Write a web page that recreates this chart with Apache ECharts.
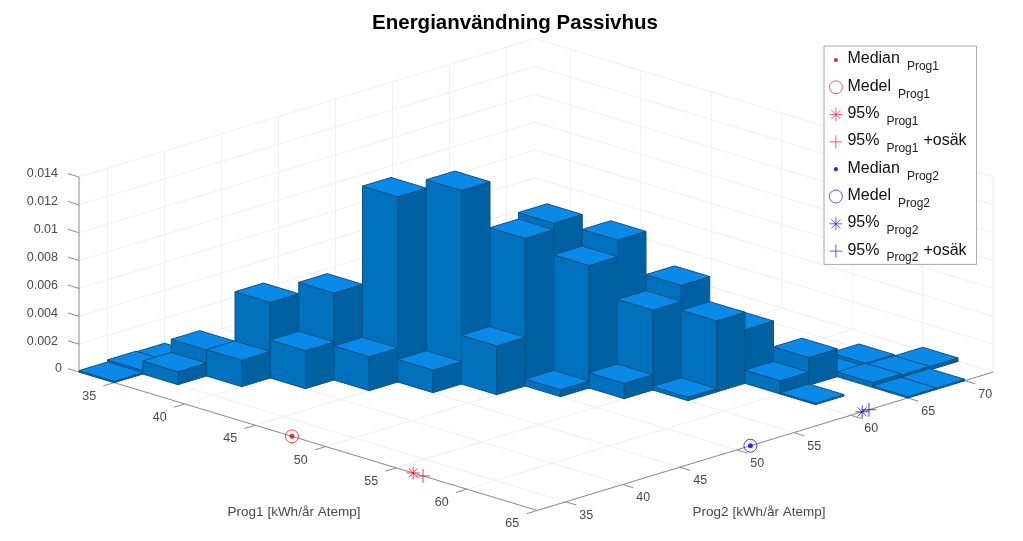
<!DOCTYPE html>
<html><head><meta charset="utf-8">
<style>html,body{margin:0;padding:0;background:#fff}#c{width:1023px;height:541px}</style>
<script src="https://cdn.jsdelivr.net/npm/echarts@6/dist/echarts.min.js"></script>
</head><body><div id="c"></div>
<script>
// ---- data ----
const prog1Ticks = [35,40,45,50,55,60,65];
const prog2Ticks = [35,40,45,50,55,60,65,70];
const densityTicks = [0,0.002,0.004,0.006,0.008,0.01,0.012,0.014];
const densityLabels = ['0','0.002','0.004','0.006','0.008','0.01','0.012','0.014'];
const binWidth = 2.5;
const barProg1 = [32.5,35,37.5,40,42.5,45,47.5,50,52.5,55,60,
                  32.5,35,37.5,40,42.5,45,47.5,50,52.5,55,57.5,
                  32.5,47.5,50,52.5,55,57.5,60,62.5,62.5,60,57.5,60,57.5];
const barProg2 = [32.5,35,37.5,40,42.5,45,47.5,50,52.5,55,60,
                  35,37.5,40,42.5,45,47.5,50,52.5,55,57.5,60,
                  37.5,52.5,55,57.5,60,62.5,65,67.5,65,67.5,67.5,70,65];
const barHeight = [0.0001,0.00093,0.0019,0.00273,0.00244,0.00162,0.0035,0.0005,0.0011,0.00025,0.0001,
                   0.00025,0.00187,0.00543,0.00625,0.0133,0.0139,0.0106,0.0088,0.00574,0.0051,0.00095,
                   0.0002,0.01107,0.01,0.0069,0.00385,0.002,0.00035,0.0001,0.0001,0.00027,0.00034,0.00025,0.00012];
const prog1Median = 47.6, prog1Mean = 47.6, prog1P95 = 56.2, prog1P95U = 56.9;
const prog2Median = 51.2, prog2Mean = 51.2, prog2P95 = 61.0, prog2P95U = 61.6;

// ---- orthographic view of the 3-D box ----
const box = {p1:[32.5,65], p2:[32.5,72.5], z:[0,0.014]};
function project(p1,p2,z){
  return [79 + (p1-32.5)*14.1 + (p2-32.5)*11.4,
          372 + (p1-32.5)*4.26 - (p2-32.5)*3.46 - z*13929];
}
const TOP='#0a8ae8', LEFT='#0071bc', RIGHT='#0061a2', EDGE='#0d5286';

const bars = barProg1.map((p,k)=>[p,barProg2[k],barHeight[k]])
  .sort((a,b)=>(a[0]-a[1])-(b[0]-b[1]));

const GRID='#f0f0f0', AXIS='#8a8a8a';
const lines=[];
function L(a,b,c){lines.push([...a,...b,c]);}
prog1Ticks.forEach(t=>{
  L([t,box.p2[0],0],[t,box.p2[1],0],GRID);
  L([t,box.p2[1],0],[t,box.p2[1],box.z[1]],GRID);
});
prog2Ticks.forEach(t=>{
  L([box.p1[0],t,0],[box.p1[1],t,0],GRID);
  L([box.p1[0],t,0],[box.p1[0],t,box.z[1]],GRID);
});
densityTicks.forEach(z=>{
  L([box.p1[0],box.p2[0],z],[box.p1[0],box.p2[1],z],GRID);
  L([box.p1[0],box.p2[1],z],[box.p1[1],box.p2[1],z],GRID);
});
const axisLines=[];
function A(a,b){axisLines.push([...a,...b,AXIS]);}
A([32.5,32.5,0],[65,32.5,0]); A([65,32.5,0],[65,72.5,0]); A([32.5,32.5,0],[32.5,32.5,0.014]);
prog1Ticks.forEach(t=>A([t,32.5,0],[t,31.55,0]));
prog2Ticks.forEach(t=>A([65,t,0],[65.75,t,0]));
densityTicks.forEach(z=>A([32.5,32.5,z],[31.72,32.5,z]));

const labels=[];
prog1Ticks.forEach(t=>{const q=project(t,32.5,0);labels.push([q[0]-25,q[1]+13.5,String(t),'center']);});
prog2Ticks.forEach(t=>{const q=project(65,t,0);labels.push([q[0]+20.5,q[1]+13.5,String(t),'center']);});
densityTicks.forEach((z,k)=>{const q=project(32.5,32.5,z);labels.push([z===0?62:58,q[1]-3,densityLabels[k],'right']);});

function lineItem(params,api){
  const a=project(api.value(0),api.value(1),api.value(2)),b=project(api.value(3),api.value(4),api.value(5));
  const pa=api.coord(a),pb=api.coord(b);
  return {type:'line',shape:{x1:pa[0],y1:pa[1],x2:pb[0],y2:pb[1]},style:{stroke:api.value(6),lineWidth:1,fill:null}};
}
function barItem(params,api){
  const x0=api.value(0),y0=api.value(1),h=api.value(2),x1=x0+binWidth,y1=y0+binWidth;
  const P=(x,y,z)=>api.coord(project(x,y,z));
  const face=(pts,c)=>({type:'polygon',shape:{points:pts},style:{fill:c,stroke:EDGE,lineWidth:1,lineJoin:'round'}});
  return {type:'group',children:[
    face([P(x0,y0,0),P(x1,y0,0),P(x1,y0,h),P(x0,y0,h)],LEFT),
    face([P(x1,y0,0),P(x1,y1,0),P(x1,y1,h),P(x1,y0,h)],RIGHT),
    face([P(x0,y0,h),P(x1,y0,h),P(x1,y1,h),P(x0,y1,h)],TOP)
  ]};
}
function labelItem(params,api){
  const p=api.coord([api.value(0),api.value(1)]);
  return {type:'text',x:p[0],y:p[1],style:{text:labels[params.dataIndex][2],align:labels[params.dataIndex][3],verticalAlign:'middle',
    fill:'#4a4a4a',font:'12.5px "Liberation Sans"'}};
}
const STAR='path://M10 0L10 20M0 10L20 10M3 3L17 17M17 3L3 17';
const PLUS='path://M10 0L10 20M0 10L20 10';
const DOT='path://M0 0L0 0M20 20L20 20M10 6.8A3.2 3.2 0 1 1 9.99 6.8Z';
const RED='#f01020', BLUE='#1010e8';
function mk(name,pos,sym,size,color,filled,icon){
  return {type:'scatter',name,coordinateSystem:'cartesian2d',data:[pos],symbol:sym,symbolSize:size,z:5,filled,
    legendIcon:icon||sym,
    itemStyle:filled?{color:color}:{color:'rgba(0,0,0,0)',borderColor:color,borderWidth:1,opacity:0.8}};
}
const onP1=v=>project(v,32.5,0), onP2=v=>project(65,v,0);
const markers=[
  mk('Median|Prog1|',onP1(prog1Median),'circle',5,'#e00010',true,DOT),
  mk('Medel|Prog1|',onP1(prog1Mean),'circle',13,RED,false),
  mk('95%|Prog1|',onP1(prog1P95),STAR,13,RED,false),
  mk('95%|Prog1|+osäk',onP1(prog1P95U),PLUS,14,RED,false),
  mk('Median|Prog2|',onP2(prog2Median),'circle',5,'#0000e0',true,DOT),
  mk('Medel|Prog2|',onP2(prog2Mean),'circle',13,BLUE,false),
  mk('95%|Prog2|',onP2(prog2P95),STAR,13,BLUE,false),
  mk('95%|Prog2|+osäk',onP2(prog2P95U),PLUS,14,BLUE,false)
];
const chart=echarts.init(document.getElementById('c'),null,{renderer:'canvas'});
chart.setOption({
  animation:false,backgroundColor:'#fff',
  title:{text:'Energianvändning Passivhus',left:510,top:6,textAlign:'center',
    textStyle:{fontFamily:'Liberation Sans',fontSize:20.5,fontWeight:'bold',color:'#000',lineHeight:24}},
  grid:{left:0,right:0,top:0,bottom:0},
  xAxis:{type:'value',min:0,max:1023,show:false},
  yAxis:{type:'value',min:0,max:541,inverse:true,show:false},
  legend:{orient:'vertical',left:824,top:46,padding:[1,10,0.3,5],itemGap:1.3,itemWidth:13,itemHeight:13,
    backgroundColor:'#fff',borderColor:'#a8a8a8',borderWidth:1,z:10,
    data:markers.map(m=>({name:m.name,icon:m.legendIcon,itemStyle:{borderWidth:m.filled?0:0.8,opacity:0.85}})),
    formatter:n=>{const s=n.split('|');return '{t|'+s[0]+'}{s|'+s[1]+'}'+(s[2]?'{u|'+s[2]+'}':'');},
    textStyle:{rich:{
      t:{fontFamily:'Liberation Sans',fontSize:16,color:'#111',lineHeight:27.5,padding:[0,0,2,0]},
      u:{fontFamily:'Liberation Sans',fontSize:16,color:'#111',lineHeight:27.5,padding:[0,0,2,5]},
      s:{fontFamily:'Liberation Sans',fontSize:12,color:'#222',lineHeight:27.5,padding:[14,0,0,7]}
    }}},
  series:[
    {type:'custom',name:'grid',silent:true,z:1,data:lines,renderItem:lineItem,encode:{x:0,y:1},clip:false},
    {type:'custom',name:'axes',silent:true,z:2,data:axisLines,renderItem:lineItem,encode:{x:0,y:1},clip:false},
    {type:'custom',name:'labels',silent:true,z:2,data:labels.map(l=>[l[0],l[1]]),renderItem:labelItem,encode:{x:0,y:1},clip:false},
    {type:'custom',name:'bars',silent:true,z:3,data:bars,renderItem:barItem,encode:{x:0,y:1},clip:false},
    ...markers
  ],
  graphic:[
    {type:'text',x:294,y:512,style:{text:'Prog1 [kWh/år Atemp]',align:'center',verticalAlign:'middle',fill:'#4a4a4a',font:'13.5px "Liberation Sans"'}},
    {type:'text',x:759,y:512,style:{text:'Prog2 [kWh/år Atemp]',align:'center',verticalAlign:'middle',fill:'#4a4a4a',font:'13.5px "Liberation Sans"'}}
  ]
});
</script></body></html>
